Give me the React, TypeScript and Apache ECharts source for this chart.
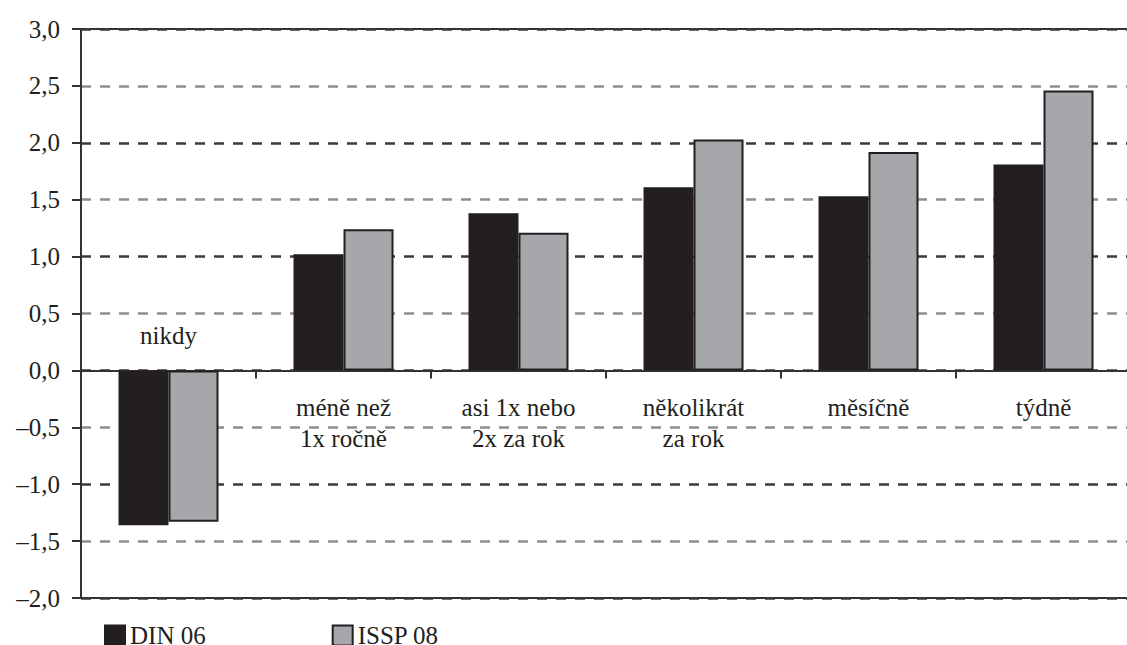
import React, { useEffect, useRef } from "react";
import * as echarts from "echarts";

const categories = [
  "nikdy",
  "méně než\n1x ročně",
  "asi 1x nebo\n2x za rok",
  "několikrát\nza rok",
  "měsíčně",
  "týdně",
];
const seriesNames = ["DIN 06", "ISSP 08"];
const din06 = [-1.36, 1.02, 1.38, 1.61, 1.53, 1.81];
const issp08 = [-1.33, 1.24, 1.21, 2.03, 1.92, 2.46];
const yTicks = { min: -2, max: 3, interval: 0.5 };

const FONT = "Liberation Serif";
const DARK = "#231f20";
const GRAY = "#a6a7aa";

// layout
const GRID_TOP = 29;
const GRID_H = 569;
const ZERO_FROM_BOTTOM = (GRID_H * (0 - yTicks.min)) / (yTicks.max - yTicks.min);
const ZERO_FROM_TOP = GRID_H - ZERO_FROM_BOTTOM;

export default function App() {
  const ref = useRef<HTMLDivElement>(null);
  useEffect(() => {
    if (!ref.current) return;
    const chart = echarts.init(ref.current, undefined, { renderer: "svg" });
    const fmtY = (v: number) => v.toFixed(1).replace(".", ",").replace("-", "–");
    chart.setOption({
      animation: false,
      backgroundColor: "#ffffff",
      textStyle: { fontFamily: FONT },
      grid: {
        left: 81,
        top: GRID_TOP,
        width: 1050,
        height: GRID_H,
        show: true,
        borderColor: "#333333",
        borderWidth: 2,
        containLabel: false,
        outerBoundsMode: "none",
      },
      legend: {
        left: 104,
        top: 623,
        padding: 0,
        itemWidth: 20,
        itemHeight: 20,
        itemGap: 126,
        itemTextGap: 13,
        icon: "rect",
        data: seriesNames,
        formatter: (n: string) => "{s|" + n + "}",
        textStyle: {
          fontFamily: FONT,
          fontSize: 25,
          color: DARK,
          rich: { s: { fontFamily: FONT, fontSize: 25, color: DARK } },
        },
      },
      xAxis: [
        {
          type: "category",
          data: categories,
          position: "bottom",
          offset: -ZERO_FROM_BOTTOM,
          axisLine: { onZero: false, lineStyle: { color: "#333333", width: 2 } },
          axisTick: { show: true, length: 8, lineStyle: { color: "#333333", width: 2 } },
          axisLabel: {
            margin: 22,
            fontFamily: FONT,
            fontSize: 25,
            lineHeight: 31,
            color: DARK,
            interval: 0,
            formatter: (v: string) => (v === categories[0] ? "" : v),
          },
          splitLine: { show: false },
        },
        {
          type: "category",
          data: categories,
          position: "top",
          offset: -ZERO_FROM_TOP,
          axisLine: { show: false, onZero: false },
          axisTick: { show: false },
          axisLabel: {
            margin: 19,
            fontFamily: FONT,
            fontSize: 25,
            lineHeight: 31,
            color: DARK,
            interval: 0,
            formatter: (v: string) => (v === categories[0] ? v : ""),
          },
          splitLine: { show: false },
        },
      ],
      yAxis: {
        type: "value",
        min: yTicks.min,
        max: yTicks.max,
        interval: yTicks.interval,
        axisLine: { show: true, lineStyle: { color: "#333333", width: 2 } },
        axisTick: { show: true, length: 9, lineStyle: { color: "#333333", width: 2 } },
        axisLabel: {
          margin: 21,
          fontFamily: FONT,
          fontSize: 25,
          color: DARK,
          formatter: fmtY,
        },
        splitLine: {
          show: true,
          lineStyle: { color: ["#3a3a3a", "#8e8e8e"], width: 2.5, type: [10, 9] },
        },
      },
      series: [
        {
          name: seriesNames[0],
          type: "bar",
          data: din06,
          barWidth: 50,
          barGap: "0%",
          xAxisIndex: 0,
          itemStyle: { color: DARK, borderColor: DARK, borderWidth: 1.5 },
        },
        {
          name: seriesNames[1],
          type: "bar",
          data: issp08,
          barWidth: 50,
          barGap: "0%",
          xAxisIndex: 0,
          itemStyle: { color: GRAY, borderColor: DARK, borderWidth: 2 },
        },
      ],
    });
    return () => chart.dispose();
  }, []);
  return (
    <div
      ref={ref}
      style={{ position: "fixed", left: 0, top: 0, width: 1127, height: 645 }}
    />
  );
}
